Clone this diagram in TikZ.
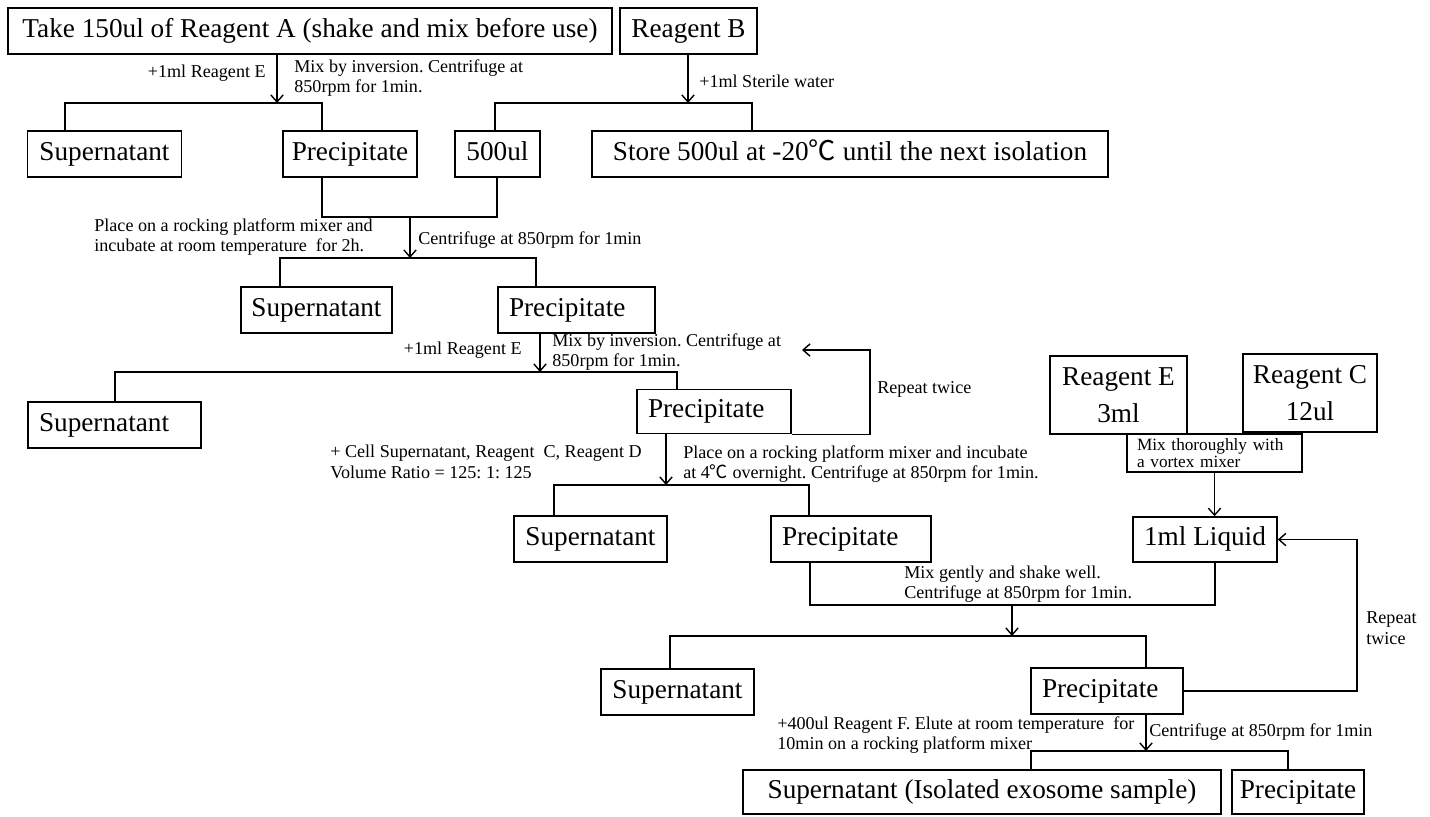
\documentclass[tikz,border=0pt]{standalone}
\usepackage{fontspec}
\setmainfont{Liberation Serif}
\newfontfamily\cjk{Noto Sans CJK SC}
\usetikzlibrary{arrows.meta, positioning}

\newcommand{\degC}{{\cjk\char"2103}}
\frenchspacing

\begin{document}
\begin{tikzpicture}[
  x=0.02cm, y=-0.02cm,
  box/.style={rectangle, draw, line width=0.9pt, minimum height=0.92cm,
              inner sep=0pt, text height=10.5pt, text depth=3.5pt,
              font=\fontsize{15.5}{18}\selectfont},
  lbox/.style={box, align=left, inner xsep=0.22cm},
  line/.style={line width=0.8pt},
  arrow/.style={line width=0.8pt, -{Straight Barb[length=4pt,width=7pt]}},
  note/.style={inner sep=0pt, align=left, font=\fontsize{10.3}{11.6}\selectfont},
]
\useasboundingbox (0,0) rectangle (1430,816);

% boxes
\node[box, minimum width=12.08cm] (take) at (310,31) {Take 150ul of Reagent A (shake and mix before use)};
\node[box, minimum width=2.74cm] (regb) at (688.5,31) {Reagent B};

\node[box, minimum width=3.08cm] (sup1) at (104.5,154) {Supernatant};
\node[box, minimum width=2.68cm] (pre1) at (350,154) {Precipitate};
\node[box, minimum width=1.7cm] (ul500) at (497.5,154) {500ul};
\node[box, minimum width=10.32cm] (store) at (850,154) {Store 500ul at -20\degC{} until the next isolation};

\node[box, minimum width=3.02cm] (sup2) at (316.5,310) {Supernatant};
\node[lbox, minimum width=3.14cm, text width=2.7cm] (pre2) at (576.5,310) {Precipitate};

\node[lbox, minimum width=3.46cm, text width=3.02cm] (sup3) at (114.5,425) {Supernatant};
\node[lbox, minimum width=3.08cm, text width=2.64cm, minimum height=0.88cm] (pre3) at (714,411.5) {Precipitate};

\node[box, minimum width=3.06cm] (sup4) at (590.5,539) {Supernatant};
\node[lbox, minimum width=3.2cm, text width=2.76cm] (pre4) at (851,539) {Precipitate};

\node[box, minimum width=2.74cm, minimum height=1.56cm, align=center, text height=, text depth=,
      font=\fontsize{15.5}{21}\selectfont] (rege) at (1118.5,395) {Reagent E\\3ml};
\node[box, minimum width=2.68cm, minimum height=1.56cm, align=center, text height=, text depth=,
      font=\fontsize{15.5}{21}\selectfont] (regc) at (1310,393) {Reagent C\\12ul};
\node[box, minimum width=3.5cm, minimum height=0.76cm, inner xsep=0.2cm, text height=, text depth=,
      text width=3.1cm, align=left, font=\fontsize{9.8}{8.6}\selectfont] (mix) at (1214.5,453)
      {Mix thoroughly with\\a vortex mixer};
\node[box, minimum width=2.88cm, minimum height=0.9cm] (liquid) at (1205,539.5) {1ml Liquid};

\node[box, minimum width=3.06cm] (sup5) at (677.5,692) {Supernatant};
\node[lbox, minimum width=3.04cm, text width=2.6cm] (pre5) at (1107,691) {Precipitate};

\node[box, minimum width=9.56cm, minimum height=0.88cm] (sup6) at (982,792) {Supernatant (Isolated exosome sample)};
\node[box, minimum width=2.64cm, minimum height=0.88cm] (pre6) at (1298,792) {Precipitate};

% junctions
\coordinate (s1) at (277,103);  \coordinate (s1a) at (65,103);   \coordinate (s1b) at (322,103);
\coordinate (s2) at (688,103);  \coordinate (s2a) at (495,103);  \coordinate (s2b) at (752,103);
\coordinate (m1) at (410,217);  \coordinate (m1a) at (322,217);  \coordinate (m1b) at (497,217);
\coordinate (s3) at (410,258);  \coordinate (s3a) at (280,258);  \coordinate (s3b) at (536,258);
\coordinate (s4) at (540,372);  \coordinate (s4a) at (115,372);  \coordinate (s4b) at (677,372);
\coordinate (r1) at (802,350);  \coordinate (r1c) at (870,350);
\coordinate (s5) at (666,485);  \coordinate (s5a) at (554,485);  \coordinate (s5b) at (809,485);
\coordinate (m2) at (1012,605); \coordinate (m2a) at (810,605);  \coordinate (m2b) at (1215,605);
\coordinate (s6) at (1012,636); \coordinate (s6a) at (670,636);  \coordinate (s6b) at (1146,636);
\coordinate (r2c) at (1357,539.5);
\coordinate (s7) at (1146,751); \coordinate (s7a) at (1031,751); \coordinate (s7b) at (1288,751);

% connectors
\draw[arrow] (take.south -| s1) -- (s1);
\draw[line] (sup1.north -| s1a) -- (s1a) -- (s1b) -- (pre1.north -| s1b);
\draw[arrow] (regb.south -| s2) -- (s2);
\draw[line] (ul500.north -| s2a) -- (s2a) -- (s2b) -- (store.north -| s2b);

\draw[line] (pre1.south -| m1a) -- (m1a) -- (m1b) -- (ul500.south -| m1b);
\draw[arrow] (m1) -- (s3);
\draw[line] (sup2.north -| s3a) -- (s3a) -- (s3b) -- (pre2.north -| s3b);

\draw[arrow] (pre2.south -| s4) -- (s4);
\draw[line] (sup3.north -| s4a) -- (s4a) -- (s4b) -- (pre3.north -| s4b);
\draw[arrow] (pre3.south east) -| (r1c) -- (r1);

\draw[arrow] (pre3.south -| s5) -- (s5);
\draw[line] (sup4.north -| s5a) -- (s5a) -- (s5b) -- (pre4.north -| s5b);

\draw[arrow] (mix.south) -- (mix.south |- liquid.north);
\draw[line] (pre4.south -| m2a) -- (m2a) -- (m2b) -- (liquid.south -| m2b);
\draw[arrow] (m2) -- (s6);
\draw[line] (sup5.north -| s6a) -- (s6a) -- (s6b) -- (pre5.north -| s6b);
\draw[arrow] (pre5.east) -| (r2c) -- (liquid.east);

\draw[arrow] (pre5.south -| s7) -- (s7);
\draw[line] (sup6.north -| s7a) -- (s7a) -- (s7b) -- (pre6.north -| s7b);

% labels
\node[note, anchor=east] at (266,73) {+1ml Reagent E};
\node[note, anchor=west] at (294,78) {Mix by inversion. Centrifuge at\\850rpm for 1min.};
\node[note, anchor=west] at (699,81) {+1ml Sterile water};
\node[note, anchor=west] at (94,237) {Place on a rocking platform mixer and\\incubate at room temperature\ \ for 2h.};
\node[note, anchor=west] at (418,240) {Centrifuge at 850rpm for 1min};
\node[note, anchor=east] at (522,350) {+1ml Reagent E};
\node[note, anchor=west] at (552,352) {Mix by inversion. Centrifuge at\\850rpm for 1min.};
\node[note, anchor=west] at (877,389) {Repeat twice};
\node[note, anchor=west] at (330,462) {+ Cell Supernatant, Reagent\ \ C, Reagent D\\Volume Ratio = 125: 1: 125};
\node[note, anchor=west] at (683,464) {Place on a rocking platform mixer and incubate\\at 4\degC{} overnight. Centrifuge at 850rpm for 1min.};
\node[note, anchor=west] at (904,584) {Mix gently and shake well.\\Centrifuge at 850rpm for 1min.};
\node[note, anchor=west] at (1366,628) {Repeat\\twice};
\node[note, anchor=west] at (777,735) {+400ul Reagent F. Elute at room temperature\ \ for\\10min on a rocking platform mixer};
\node[note, anchor=west] at (1149,732) {Centrifuge at 850rpm for 1min};
\end{tikzpicture}
\end{document}
